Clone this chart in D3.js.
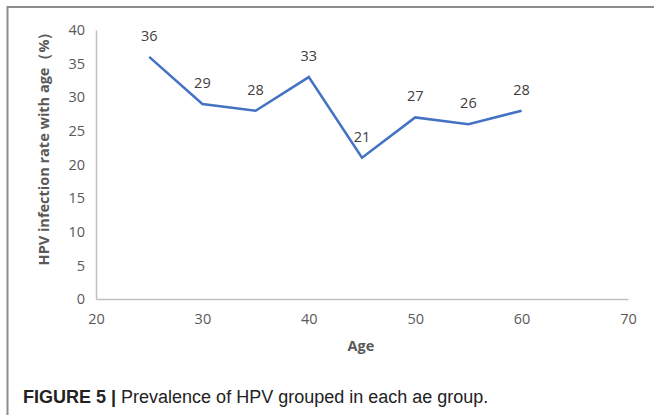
<!DOCTYPE html>
<html><head><meta charset="utf-8">
<script src="https://cdn.jsdelivr.net/npm/d3@7"></script>
<style>body{margin:0;background:#fff;}svg{display:block;}</style>
</head><body>
<svg id="c" width="654" height="415"></svg>
<script>
const ages = [25, 30, 35, 40, 45, 50, 55, 60];
const rates = [36, 29, 28, 33, 21, 27, 26, 28];
const xTicks = [20, 30, 40, 50, 60, 70];
const yTicks = [0, 5, 10, 15, 20, 25, 30, 35, 40];

const svg = d3.select('#c');
svg.append('line').attr('x1',7).attr('y1',7).attr('x2',654).attr('y2',7).attr('stroke','#8c8c8c').attr('stroke-width',2);
svg.append('line').attr('x1',7.5).attr('y1',6).attr('x2',7.5).attr('y2',415).attr('stroke','#8c8c8c').attr('stroke-width',2);

const x = d3.scaleLinear().domain([20,70]).range([96,628]);
const y = d3.scaleLinear().domain([0,40]).range([299,30]);
const font = "'Open Sans', sans-serif";
const fs = '14.5px';

const xa = svg.append('g').attr('transform','translate(0,299)').call(d3.axisBottom(x).tickValues(xTicks).tickSize(0).tickPadding(15));
xa.select('.domain').attr('stroke','#bfbfbf').attr('stroke-width',1.5);
xa.selectAll('text').attr('fill','#595959').style('font-family',font).style('font-size',fs);

const ya = svg.append('g').attr('transform','translate(96,0)').call(d3.axisLeft(y).tickValues(yTicks).tickSize(0).tickPadding(11));
ya.select('.domain').attr('stroke','#bfbfbf').attr('stroke-width',1.5);
ya.selectAll('text').attr('fill','#595959').style('font-family',font).style('font-size',fs);

const line = d3.line().x((d,i)=>x(ages[i])).y(d=>y(d));
svg.append('path').datum(rates).attr('d',line).attr('fill','none').attr('stroke','#4472c4').attr('stroke-width',2.5);

svg.append('g').selectAll('text').data(rates).join('text')
  .attr('x',(d,i)=>x(ages[i])).attr('y',d=>y(d)-16)
  .attr('text-anchor','middle').attr('fill','#404040')
  .style('font-family',font).style('font-size',fs).text(d=>d);

svg.append('text').attr('x',361).attr('y',351).attr('text-anchor','middle')
  .attr('fill','#595959').style('font-family',font).style('font-size',fs).style('font-weight','bold').text('Age');

svg.append('text').attr('transform','translate(49,145) rotate(-90)').attr('text-anchor','middle')
  .attr('fill','#595959').style('font-family',font).style('font-size',fs).style('font-weight','bold').text('HPV infection rate with age（%）');

const cap = svg.append('text').attr('x',23).attr('y',403).attr('fill','#222')
  .style('font-family',"'Liberation Sans', Arial, sans-serif").style('font-size','18px');
cap.append('tspan').style('font-weight','bold').text('FIGURE 5 | ');
cap.append('tspan').text('Prevalence of HPV grouped in each ae group.');
</script>
</body></html>
